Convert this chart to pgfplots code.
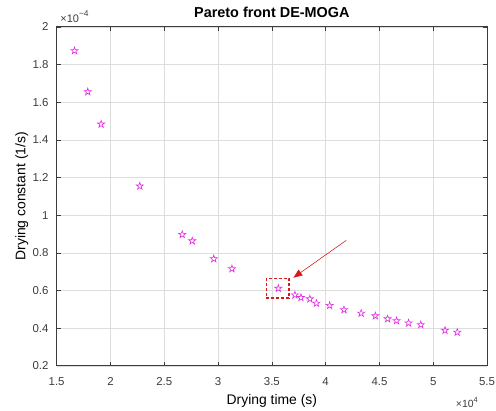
\documentclass[border=0pt]{standalone}
\usepackage{pgfplots}
\pgfplotsset{compat=1.18}
\usepackage{fontspec}
\setmainfont{Liberation Sans}
\usetikzlibrary{arrows.meta}
\definecolor{mag}{RGB}{230,40,230}
\definecolor{axgray}{RGB}{60,60,60}
\definecolor{boxred}{RGB}{215,25,25}
\pgfdeclareplotmark{pentagram}{%
  \pgfpathmoveto{\pgfqpointpolar{90}{\pgfplotmarksize}}%
  \pgfpathlineto{\pgfqpointpolar{126}{0.382\pgfplotmarksize}}%
  \pgfpathlineto{\pgfqpointpolar{162}{\pgfplotmarksize}}%
  \pgfpathlineto{\pgfqpointpolar{198}{0.382\pgfplotmarksize}}%
  \pgfpathlineto{\pgfqpointpolar{234}{\pgfplotmarksize}}%
  \pgfpathlineto{\pgfqpointpolar{270}{0.382\pgfplotmarksize}}%
  \pgfpathlineto{\pgfqpointpolar{306}{\pgfplotmarksize}}%
  \pgfpathlineto{\pgfqpointpolar{342}{0.382\pgfplotmarksize}}%
  \pgfpathlineto{\pgfqpointpolar{18}{\pgfplotmarksize}}%
  \pgfpathlineto{\pgfqpointpolar{54}{0.382\pgfplotmarksize}}%
  \pgfpathclose\pgfusepathqstroke}
\begin{document}
\begin{tikzpicture}
\begin{axis}[
  scale only axis, width=433pt, height=341pt,
  xmin=1.5, xmax=5.5, ymin=0.2, ymax=2,
  xtick={1.5,2,...,5.5},
  ytick={0.2,0.4,...,2.01},
  xticklabels={1.5,2,2.5,3,3.5,4,4.5,5,5.5},
  yticklabels={0.2,0.4,0.6,0.8,1,1.2,1.4,1.6,1.8,2},
  tick label style={font=\fontsize{11.5}{13}\selectfont, text=axgray},
  xticklabel style={inner sep=0pt, yshift=-12pt},
  yticklabel style={inner sep=0pt, xshift=-8pt},
  grid=major, major grid style={draw=black!13, line width=0.5pt},
  axis line style={draw=axgray, line width=0.7pt},
  tick style={draw=axgray, line width=0.6pt},
  tick align=inside, major tick length=4pt,
  title={\bfseries Pareto front DE-MOGA},
  title style={font=\fontsize{14.5}{16}\selectfont, at={(axis description cs:0.5,1.026)}, anchor=center, yshift=0pt},
  xlabel={Drying time (s)}, ylabel={Drying constant (1/s)},
  label style={font=\fontsize{14}{16}\selectfont},
  xlabel style={at={(axis description cs:0.5,-0.1026)}, anchor=center},
  ylabel style={at={(axis description cs:-0.0808,0.5)}, anchor=center},
  clip=false,
]
\addplot[only marks, mark=pentagram, mark size=3.8pt, mag, line width=0.6pt] coordinates {
(1.666,1.873) (1.789,1.655) (1.913,1.483) (2.273,1.154)
(2.667,0.897) (2.760,0.863) (2.960,0.768) (3.129,0.715)
(3.560,0.611) (3.714,0.576) (3.770,0.562) (3.853,0.555)
(3.914,0.532) (4.037,0.520) (4.170,0.497) (4.330,0.479)
(4.462,0.465) (4.576,0.449) (4.659,0.439) (4.770,0.427)
(4.884,0.418) (5.109,0.388) (5.223,0.378)
};
\draw[draw=boxred, dash pattern=on 3pt off 2pt, line width=1.5pt] (axis cs:3.449,0.664) rectangle (axis cs:3.660,0.559);
\draw[draw=boxred, fill=boxred, line width=0.5pt, -{Triangle[length=9pt,width=7pt]}] (axis cs:4.191,0.866) -- (axis cs:3.70,0.668);
\node[anchor=center, font=\fontsize{10.5}{12}\selectfont, text=axgray, inner sep=0pt] at (axis description cs:0.953,-0.108) {×10\raisebox{0.9ex}{\fontsize{7.5}{9}\selectfont 4}};
\node[anchor=center, font=\fontsize{11}{12}\selectfont, text=axgray, inner sep=0pt] at (axis description cs:0.0416,1.03) {×10\raisebox{0.9ex}{\fontsize{8.5}{9}\selectfont −4}};
\coordinate (bl) at (rel axis cs:0,0);
\coordinate (tr) at (rel axis cs:1,1);
\end{axis}
\pgfresetboundingbox
\path ([shift={(-57pt,-45pt)}]bl) rectangle ([shift={(9pt,27pt)}]tr);
\end{tikzpicture}
\end{document}
